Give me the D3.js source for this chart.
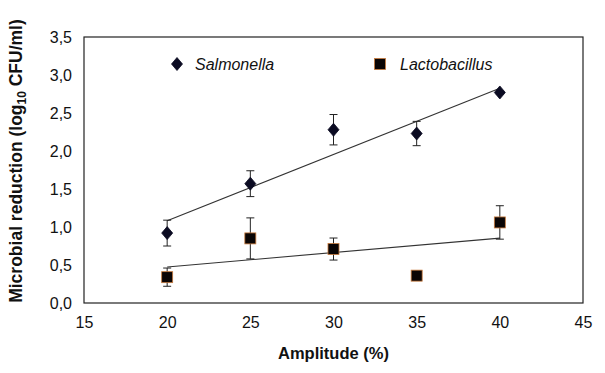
<!DOCTYPE html>
<html>
<head>
<meta charset="utf-8">
<script src="https://cdn.jsdelivr.net/npm/d3@7"></script>
<style>
  body { margin: 0; background: #fff; }
  svg { display: block; font-family: "Liberation Sans", Arial, sans-serif; }
</style>
</head>
<body>
<div id="chart"></div>
<script>
const amplitude = [20, 25, 30, 35, 40];
const salmonella = [0.92, 1.57, 2.28, 2.23, 2.77];
const salmonellaSd = [0.17, 0.17, 0.20, 0.16, 0.02];
const lactobacillus = [0.34, 0.85, 0.71, 0.36, 1.06];
const lactobacillusSd = [0.12, 0.27, 0.145, 0.0, 0.22];
const xTicks = [15, 20, 25, 30, 35, 40, 45];
const yTicks = [0, 0.5, 1, 1.5, 2, 2.5, 3, 3.5];

const W = 605, H = 373;
const m = { top: 37, right: 22, bottom: 70, left: 84 };

const svg = d3.select("#chart").append("svg")
  .attr("width", W).attr("height", H);

const x = d3.scaleLinear().domain([15, 45]).range([m.left, W - m.right]);
const y = d3.scaleLinear().domain([0, 3.5]).range([H - m.bottom, m.top]);
const fmt = v => d3.format(".1f")(v).replace(".", ",");

// frame
svg.append("rect")
  .attr("x", x(15)).attr("y", y(3.5))
  .attr("width", x(45) - x(15)).attr("height", y(0) - y(3.5))
  .attr("fill", "none").attr("stroke", "#222").attr("stroke-width", 1.2);

// axes
const xAxis = svg.append("g")
  .attr("transform", `translate(0,${y(0)})`)
  .call(d3.axisBottom(x).tickValues(xTicks).tickSize(0).tickPadding(14));
const yAxis = svg.append("g")
  .attr("transform", `translate(${x(15)},0)`)
  .call(d3.axisLeft(y).tickValues(yTicks).tickFormat(fmt).tickSize(0).tickPadding(12));
[xAxis, yAxis].forEach(a => {
  a.select(".domain").remove();
  a.selectAll("text")
    .attr("fill", "#111")
    .style("font-family", "Liberation Sans, Arial, sans-serif")
    .style("font-size", "16px");
});

// axis titles
svg.append("text")
  .attr("x", (x(15) + x(45)) / 2).attr("y", 359)
  .attr("text-anchor", "middle")
  .style("font-size", "16.5px").style("font-weight", "bold").attr("fill", "#111")
  .text("Amplitude (%)");

const yt = svg.append("text")
  .attr("transform", `translate(22,161) rotate(-90)`)
  .attr("text-anchor", "middle")
  .style("font-size", "17.5px").style("font-weight", "bold").attr("fill", "#111");
yt.append("tspan").text("Microbial reduction (log");
yt.append("tspan").attr("dy", 4).style("font-size", "12px").text("10");
yt.append("tspan").attr("dy", -4).text(" CFU/ml)");

// least-squares trend line over the data range
function trend(xs, ys) {
  const mx = d3.mean(xs), my = d3.mean(ys);
  const b = d3.sum(xs, (v, i) => (v - mx) * (ys[i] - my)) / d3.sum(xs, v => (v - mx) ** 2);
  const a = my - b * mx;
  const x0 = d3.min(xs), x1 = d3.max(xs);
  return [[x0, a + b * x0], [x1, a + b * x1]];
}

const series = [
  { name: "Salmonella", values: salmonella, sd: salmonellaSd, shape: "diamond" },
  { name: "Lactobacillus", values: lactobacillus, sd: lactobacillusSd, shape: "square" }
];

const line = d3.line().x(d => x(d[0])).y(d => y(d[1]));

function marker(g, shape, cx, cy) {
  if (shape === "diamond") {
    g.append("path")
      .attr("d", `M${cx},${cy - 6.5}L${cx + 5.5},${cy}L${cx},${cy + 6.5}L${cx - 5.5},${cy}Z`)
      .attr("fill", "#0b0b22").attr("stroke", "#0b0b22").attr("stroke-width", 0.8);
  } else {
    g.append("rect")
      .attr("x", cx - 5.5).attr("y", cy - 5.5).attr("width", 11).attr("height", 11)
      .attr("fill", "#0a0505").attr("stroke", "#c87a3c").attr("stroke-width", 0.8);
  }
}

series.forEach(s => {
  const g = svg.append("g");
  g.append("path")
    .attr("d", line(trend(amplitude, s.values)))
    .attr("fill", "none").attr("stroke", "#333").attr("stroke-width", 1.1);

  amplitude.forEach((a, i) => {
    const v = s.values[i], e = s.sd[i];
    if (e > 0) {
      const cx = x(a);
      g.append("line").attr("x1", cx).attr("x2", cx)
        .attr("y1", y(v + e)).attr("y2", y(v - e))
        .attr("stroke", "#222").attr("stroke-width", 1);
      [v + e, v - e].forEach(t => {
        g.append("line").attr("x1", cx - 4).attr("x2", cx + 4)
          .attr("y1", y(t)).attr("y2", y(t))
          .attr("stroke", "#222").attr("stroke-width", 1);
      });
    }
  });
  amplitude.forEach((a, i) => marker(g, s.shape, x(a), y(s.values[i])));
});

// legend
const legend = [
  { name: "Salmonella", shape: "diamond", mx: 177, tx: 195 },
  { name: "Lactobacillus", shape: "square", mx: 380, tx: 400 }
];
legend.forEach(d => {
  const g = svg.append("g");
  marker(g, d.shape, d.mx, 64);
  g.append("text")
    .attr("x", d.tx).attr("y", 64).attr("dy", "0.35em")
    .style("font-size", "16px").style("font-style", "italic").attr("fill", "#111")
    .text(d.name);
});
</script>
</body>
</html>
